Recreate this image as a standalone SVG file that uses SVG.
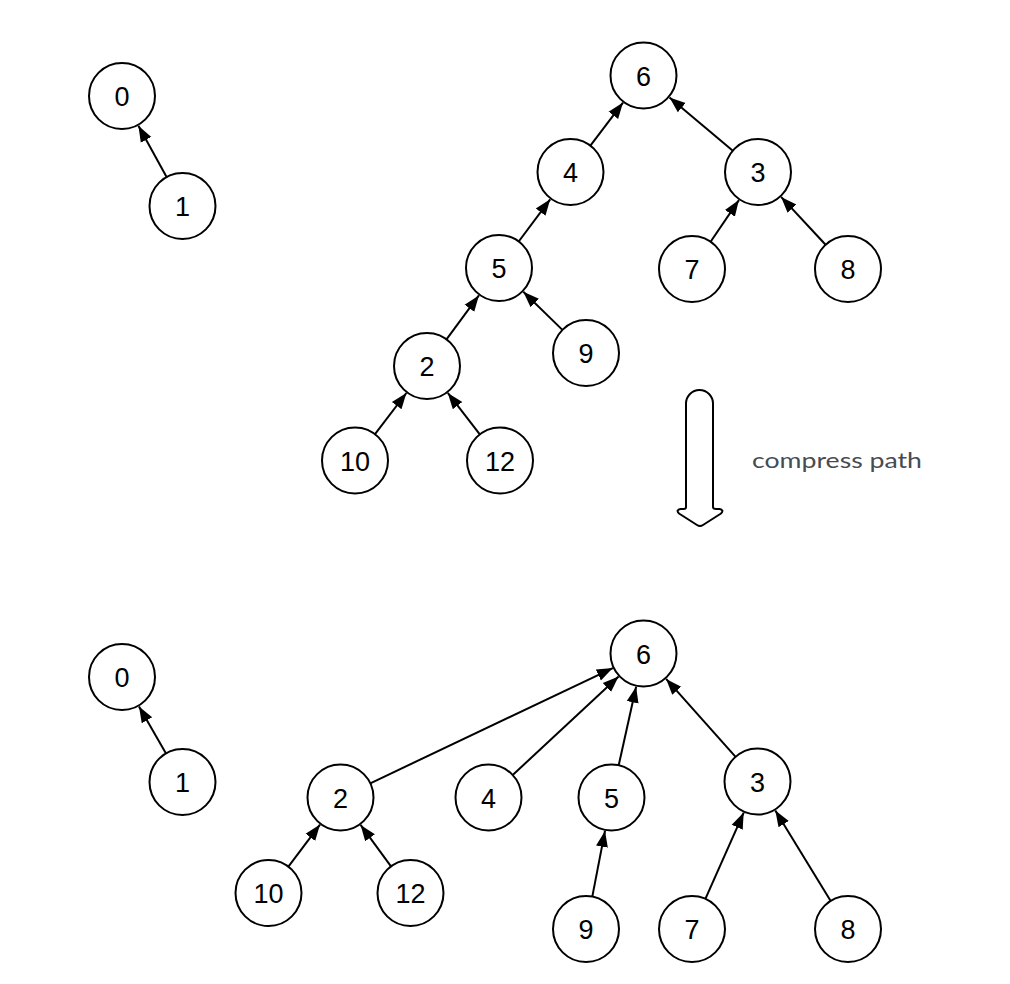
<svg xmlns="http://www.w3.org/2000/svg" width="1010" height="984" viewBox="0 0 1010 984">
<style>
.n circle{fill:#fff;stroke:#000;stroke-width:2}
.n text{font-family:"Liberation Sans",Arial,sans-serif;font-size:27px;fill:#000;text-anchor:middle}
.e line{stroke:#000;stroke-width:2;marker-end:url(#ah)}
.lbl{font-family:Lato,"Noto Sans",sans-serif;font-size:21px;fill:#474c52}
</style>
<defs>
<marker id="ah" markerUnits="userSpaceOnUse" markerWidth="18" markerHeight="14" refX="16" refY="7" orient="auto">
<path d="M0,1 L16,7 L0,13 z" fill="#000"/>
</marker>
</defs>
<rect width="1010" height="984" fill="#fff"/>
<g id="connectors" class="e">
<line x1="166.6" y1="177.1" x2="138.4" y2="125.8"/>
<line x1="590.4" y1="145.7" x2="623" y2="102.6"/>
<line x1="732.8" y1="150.7" x2="669.5" y2="97.4"/>
<line x1="518.7" y1="241.5" x2="550.2" y2="199.3"/>
<line x1="710.6" y1="241.7" x2="738.9" y2="200.1"/>
<line x1="825.6" y1="244.8" x2="781.1" y2="196.9"/>
<line x1="446.5" y1="339.4" x2="478.9" y2="295.4"/>
<line x1="562.4" y1="329.9" x2="523.3" y2="291.8"/>
<line x1="375" y1="434.2" x2="406.4" y2="393"/>
<line x1="479.8" y1="434.4" x2="447.8" y2="392.9"/>
<line x1="166" y1="753.4" x2="139" y2="706.4"/>
<line x1="370.3" y1="783.3" x2="612.8" y2="668.1"/>
<line x1="512.7" y1="775" x2="618.6" y2="676.6"/>
<line x1="618.7" y1="765.3" x2="636.1" y2="686.7"/>
<line x1="735.6" y1="756.9" x2="666.1" y2="678.9"/>
<line x1="288.4" y1="866.6" x2="320" y2="824.6"/>
<line x1="391" y1="866.4" x2="360.6" y2="824.9"/>
<line x1="592.3" y1="896.6" x2="605" y2="830.9"/>
<line x1="705.4" y1="898.8" x2="743.7" y2="812.6"/>
<line x1="830.7" y1="900.9" x2="775.3" y2="810.5"/>
</g>
<g id="t0" class="n"><circle cx="122" cy="96" r="33"/><text x="122" y="106">0</text></g>
<g id="t1" class="n"><circle cx="182.5" cy="206" r="33"/><text x="182.5" y="216">1</text></g>
<g id="t6" class="n"><circle cx="643.5" cy="75.5" r="33"/><text x="643.5" y="85.5">6</text></g>
<g id="t4" class="n"><circle cx="570.5" cy="172" r="33"/><text x="570.5" y="182">4</text></g>
<g id="t3" class="n"><circle cx="758" cy="172" r="33"/><text x="758" y="182">3</text></g>
<g id="t5" class="n"><circle cx="499" cy="268" r="33"/><text x="499" y="278">5</text></g>
<g id="t7" class="n"><circle cx="692" cy="269" r="33"/><text x="692" y="279">7</text></g>
<g id="t8" class="n"><circle cx="848" cy="269" r="33"/><text x="848" y="279">8</text></g>
<g id="t2" class="n"><circle cx="427" cy="366" r="33"/><text x="427" y="376">2</text></g>
<g id="t9" class="n"><circle cx="586" cy="353" r="33"/><text x="586" y="363">9</text></g>
<g id="t10" class="n"><circle cx="355" cy="460.5" r="33"/><text x="355" y="470.5">10</text></g>
<g id="t12" class="n"><circle cx="500" cy="460.5" r="33"/><text x="500" y="470.5">12</text></g>
<g id="b0" class="n"><circle cx="122" cy="677" r="33"/><text x="122" y="687">0</text></g>
<g id="b1" class="n"><circle cx="182.5" cy="782" r="33"/><text x="182.5" y="792">1</text></g>
<g id="b6" class="n"><circle cx="643.5" cy="653.5" r="33"/><text x="643.5" y="663.5">6</text></g>
<g id="b2" class="n"><circle cx="340.5" cy="797.5" r="33"/><text x="340.5" y="807.5">2</text></g>
<g id="b4" class="n"><circle cx="488.5" cy="797.5" r="33"/><text x="488.5" y="807.5">4</text></g>
<g id="b5" class="n"><circle cx="611.5" cy="797.5" r="33"/><text x="611.5" y="807.5">5</text></g>
<g id="b3" class="n"><circle cx="757.5" cy="781.5" r="33"/><text x="757.5" y="791.5">3</text></g>
<g id="b10" class="n"><circle cx="268.5" cy="893" r="33"/><text x="268.5" y="903">10</text></g>
<g id="b12" class="n"><circle cx="410.5" cy="893" r="33"/><text x="410.5" y="903">12</text></g>
<g id="b9" class="n"><circle cx="586" cy="929" r="33"/><text x="586" y="939">9</text></g>
<g id="b7" class="n"><circle cx="692" cy="929" r="33"/><text x="692" y="939">7</text></g>
<g id="b8" class="n"><circle cx="848" cy="929" r="33"/><text x="848" y="939">8</text></g>
<g id="compress-arrow">
<path d="M686,507 L686,403.5 A13.5,13.5 0 0 1 713,403.5 L713,507 Q713,509 716,509 L719.5,509 Q724.5,510 721,513.5 L703,525 Q700,527 697,525 L679,513.5 Q675.5,510 680.5,509 L684,509 Q686,509 686,507 Z" fill="#fff" stroke="#000" stroke-width="2" stroke-linejoin="round"/>
<text class="lbl" x="752" y="468" textLength="170" lengthAdjust="spacingAndGlyphs">compress path</text>
</g>
</svg>
